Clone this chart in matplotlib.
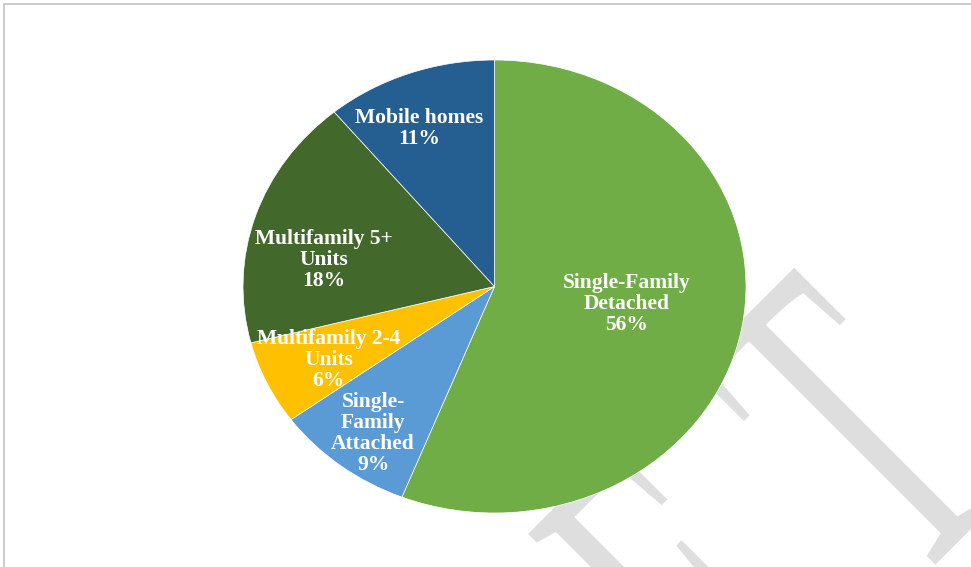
import numpy as np
import matplotlib
matplotlib.use('Agg')
import matplotlib.pyplot as plt
from matplotlib.textpath import TextPath
from matplotlib.patches import PathPatch, Rectangle
from matplotlib.font_manager import FontProperties
from matplotlib.transforms import Affine2D, IdentityTransform

# Housing stock shares (%), clockwise from 12 o'clock
categories = ['Single-Family\nDetached', 'Single-\nFamily\nAttached',
              'Multifamily 2-4\nUnits', 'Multifamily 5+\nUnits', 'Mobile homes']
shares = [56, 9, 6, 18, 11]
colors = ['#70AD47', '#5B9BD5', '#FFC000', '#43682B', '#255E91']

# label placement inside each wedge (radius fraction, angle nudge in deg)
label_r = [0.53, 0.80, 0.73, 0.69, 0.77]
label_dtheta = [3.4, 0.7, 0.3, 7.5, 3.2]

W, H = 971, 567
fig = plt.figure(figsize=(W / 100, H / 100), dpi=100)
fig.patch.set_facecolor('white')

# page frame (only top and left visible in the crop)
fig.add_artist(Rectangle((4, -10), W + 20, H - 4 + 10, transform=IdentityTransform(),
                         fill=False, edgecolor='#c4c4c4', linewidth=1.2, zorder=-2))

# faint "DRAFT" watermark, stretched and rotated like a Word watermark
fp = FontProperties(family='Liberation Serif')
sx, sy = 250, 473
ox, oy = 439.5, H - 1060.5
t_off = TextPath((0, 0), 'DRAF', size=1, prop=fp).get_extents().x1 + 0.02
for word, shift in [('DRAF', -0.40), ('T', t_off)]:
    tp = TextPath((0, 0), word, size=1, prop=fp)
    tr = Affine2D().translate(shift, 0).scale(sx, sy).rotate_deg(45).translate(ox, oy)
    fig.add_artist(PathPatch(tr.transform_path(tp), transform=IdentityTransform(),
                             facecolor='#dedede', edgecolor='none', zorder=-1))

# pie is an ellipse in the reference -> axes box equals the ellipse bbox
left, right, top, bottom = 243, 746, 60, 513
ax = fig.add_axes([left / W, (H - bottom) / H, (right - left) / W, (bottom - top) / H])
wedges, _ = ax.pie(shares, colors=colors, startangle=90, counterclock=False,
                   wedgeprops=dict(edgecolor='white', linewidth=0.5))
ax.set_aspect('auto')
ax.set_xlim(-1, 1)
ax.set_ylim(-1, 1)

for w, lab, v, r, dt in zip(wedges, categories, shares, label_r, label_dtheta):
    th = np.deg2rad((w.theta1 + w.theta2) / 2 + dt)
    ax.text(r * np.cos(th), r * np.sin(th) - 0.01, f'{lab}\n{v}%', ha='center', va='center',
            color='white', fontsize=15.5, fontweight='bold', family='Liberation Serif',
            linespacing=1.06)

fig.savefig('out.png', dpi=100)
